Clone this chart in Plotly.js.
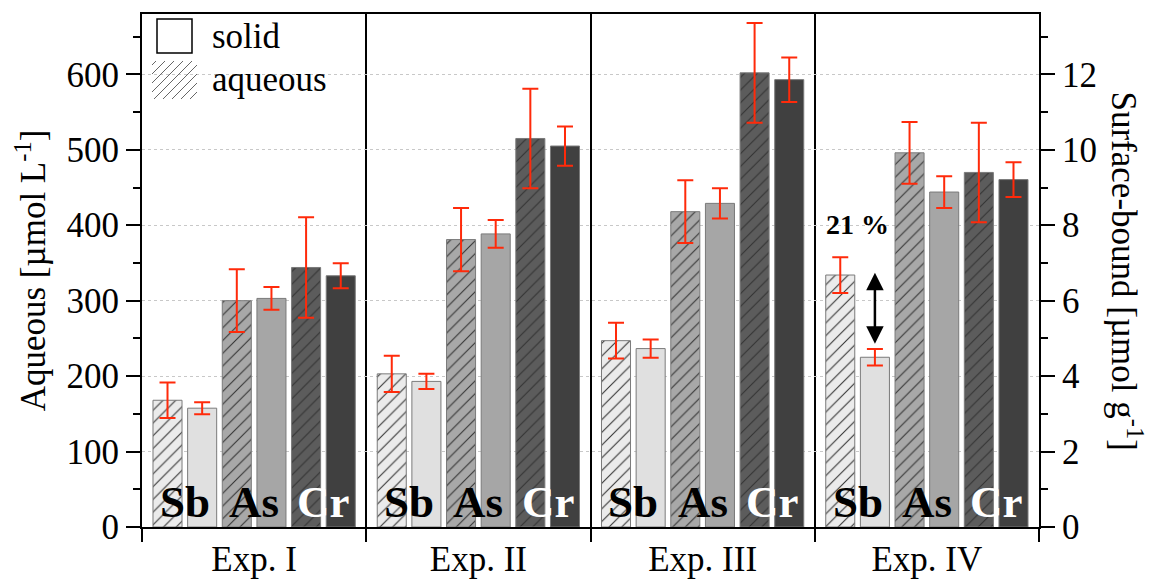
<!DOCTYPE html>
<html>
<head>
<meta charset="utf-8">
<script src="https://cdn.plot.ly/plotly-3.0.1.min.js"></script>
<style>html,body{margin:0;padding:0;background:#fff;}#chart{width:1152px;height:583px;}</style>
</head>
<body>
<div id="chart"></div>
<script>
// ---- data ----
const categories = ['Exp. I', 'Exp. II', 'Exp. III', 'Exp. IV'];
const elements = ['Sb', 'As', 'Cr'];
// aqueous [µmol L-1] (left axis)
const sbAq = [168, 203, 247, 334];
const sbAqErr = [23.5, 24, 23.7, 23.7];
const asAq = [300, 381, 418, 496];
const asAqErr = [41.5, 42, 41.6, 41];
const crAq = [344, 515, 602, 470];
const crAqErr = [66.5, 66, 66, 66];
// surface-bound [µmol g-1] (right axis)
const sbSolid = [3.15, 3.86, 4.73, 4.50];
const sbSolidErr = [0.16, 0.20, 0.24, 0.22];
const asSolid = [6.06, 7.77, 8.58, 8.88];
const asSolidErr = [0.30, 0.37, 0.40, 0.42];
const crSolid = [6.66, 10.10, 11.86, 9.21];
const crSolidErr = [0.33, 0.52, 0.59, 0.46];
const percentLabel = '21 %';

// ---- styling ----
const FONT = '"Liberation Serif", "Times New Roman", serif';
const RED = '#ff2a0a';
const pitch = 0.1545, barW = 0.1295;
const L = 142, R = 1039, T = 14, B = 527;
const px = x => (x - L) / (R - L);
const py = y => (B - y) / (B - T);

function barTrace(vals, errs, color, hatched, idx, axis) {
  const m = {color: color, line: {color: '#7a7a7a', width: 1}};
  if (hatched) m.pattern = {shape: '/', size: 9, solidity: 0.12, fgcolor: '#333333', bgcolor: color, fillmode: 'replace'};
  return {
    type: 'bar', x: categories, y: vals, yaxis: axis,
    width: barW, offset: (idx - 3) * pitch + (pitch - barW) / 2,
    marker: m, showlegend: false, hoverinfo: 'skip',
    error_y: {type: 'data', array: errs, visible: true, color: RED, thickness: 2, width: 8}
  };
}

const traces = [
  barTrace(sbAq, sbAqErr, '#ebebeb', true, 0, 'y'),
  barTrace(sbSolid, sbSolidErr, '#e0e0e0', false, 1, 'y2'),
  barTrace(asAq, asAqErr, '#a8a8a8', true, 2, 'y'),
  barTrace(asSolid, asSolidErr, '#a6a6a6', false, 3, 'y2'),
  barTrace(crAq, crAqErr, '#5c5c5c', true, 4, 'y'),
  barTrace(crSolid, crSolidErr, '#404040', false, 5, 'y2')
];

const annotations = [];
const elemColors = ['#000', '#000', '#fff'];
categories.forEach((c, g) => {
  elements.forEach((e, p) => {
    annotations.push({
      x: g + (p - 1) * 2 * pitch, y: 0, xref: 'x', yref: 'y',
      text: '<b>' + e + '</b>', showarrow: false, yanchor: 'bottom', yshift: -2,
      font: {family: FONT, size: 45, color: elemColors[p]}
    });
  });
});
// percentage + arrow on Exp. IV Sb
annotations.push({
  x: 3 - 2 * pitch, y: 401, xref: 'x', yref: 'y', text: '<b>' + percentLabel + '</b>',
  showarrow: false, font: {family: FONT, size: 28, color: '#000'}
});
annotations.push({
  x: 3 - 1.5 * pitch, y: sbAq[3] + 3, ax: 3 - 1.5 * pitch, ay: sbSolid[3] * 50 + 16,
  xref: 'x', yref: 'y', axref: 'x', ayref: 'y', text: '', showarrow: true,
  font: {size: 1},
  arrowhead: 2, startarrowhead: 2, arrowside: 'end+start', arrowsize: 1.4, startarrowsize: 1.4, arrowwidth: 2.5, arrowcolor: '#000'
});
// legend texts
annotations.push({x: px(210), y: py(36), xref: 'paper', yref: 'paper', xanchor: 'left', yanchor: 'middle',
  text: 'solid', showarrow: false, font: {family: FONT, size: 35, color: '#000'}});
annotations.push({x: px(210), y: py(79), xref: 'paper', yref: 'paper', xanchor: 'left', yanchor: 'middle',
  text: 'aqueous', showarrow: false, font: {family: FONT, size: 35, color: '#000'}});
// right axis title
annotations.push({x: px(1126), y: 0.5, xref: 'paper', yref: 'paper', xanchor: 'center', yanchor: 'middle',
  text: 'Surface-bound [µmol g<sup>-1</sup>]', textangle: 90, showarrow: false,
  font: {family: FONT, size: 35, color: '#000'}});

// legend symbols
const shapes = [];
shapes.push({type: 'rect', xref: 'paper', yref: 'paper', x0: px(157), x1: px(192), y0: py(53), y1: py(19),
  line: {color: '#000', width: 1.5}, fillcolor: '#fff'});
(function () {
  const x0 = 152, x1 = 197, y0 = 61, y1 = 99;
  let d = '';
  for (let k = x0 + y0 + 4; k < x1 + y1; k += 9) {
    const xs = Math.max(x0, k - y1), xe = Math.min(x1, k - y0);
    if (xe - xs < 1) continue;
    d += 'M' + px(xs) + ',' + py(k - xs) + 'L' + px(xe) + ',' + py(k - xe);
  }
  shapes.push({type: 'path', xref: 'paper', yref: 'paper', path: d, line: {color: '#666', width: 1}});
})();

const layout = {
  width: 1152, height: 583,
  margin: {l: L, r: 1152 - R, t: T, b: 583 - B, pad: 0},
  paper_bgcolor: '#fff', plot_bgcolor: '#fff',
  font: {family: FONT, size: 35, color: '#000'},
  barmode: 'overlay', showlegend: false,
  xaxis: {
    type: 'category', range: [-0.5, 3.5], tickson: 'boundaries',
    ticks: 'outside', ticklen: 13, tickwidth: 2, tickcolor: '#000',
    showgrid: true, gridcolor: '#000', gridwidth: 2,
    showline: true, linecolor: '#000', linewidth: 2, mirror: true,
    tickfont: {family: FONT, size: 35, color: '#000'}, fixedrange: true
  },
  yaxis: {
    range: [0, 680], dtick: 100, tick0: 0,
    ticks: 'outside', ticklen: 14, tickwidth: 2, tickcolor: '#000',
    minor: {dtick: 50, ticks: 'outside', ticklen: 7, tickwidth: 2, tickcolor: '#000', showgrid: false},
    showgrid: true, gridcolor: '#c8c8c8', griddash: 'dot', gridwidth: 1,
    zeroline: false, showline: true, linecolor: '#000', linewidth: 2,
    tickfont: {family: FONT, size: 35, color: '#000'},
    title: {text: 'Aqueous [µmol L<sup>-1</sup>]', font: {family: FONT, size: 35, color: '#000'}, standoff: 10},
    fixedrange: true
  },
  yaxis2: {
    overlaying: 'y', side: 'right', range: [0, 13.6], dtick: 2, tick0: 0,
    ticks: 'outside', ticklen: 14, tickwidth: 2, tickcolor: '#000',
    minor: {dtick: 1, ticks: 'outside', ticklen: 7, tickwidth: 2, tickcolor: '#000', showgrid: false},
    showgrid: false, zeroline: false, showline: true, linecolor: '#000', linewidth: 2,
    tickfont: {family: FONT, size: 35, color: '#000'}, fixedrange: true
  },
  annotations: annotations,
  shapes: shapes
};

Plotly.newPlot('chart', traces, layout, {displayModeBar: false, staticPlot: true});
</script>
</body>
</html>
